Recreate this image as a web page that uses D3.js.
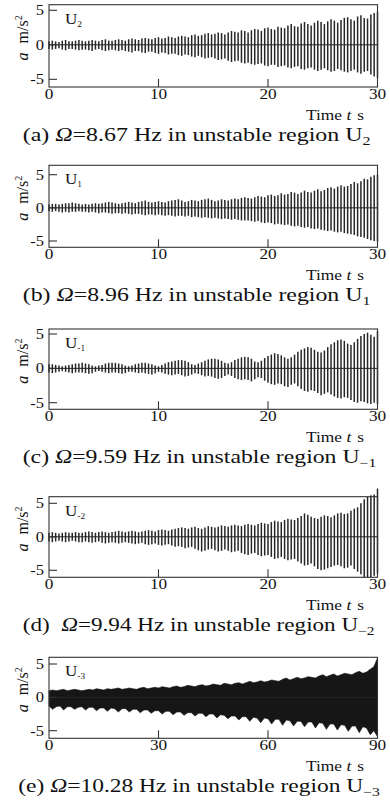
<!DOCTYPE html>
<html><head><meta charset="utf-8">
<script src="https://cdn.jsdelivr.net/npm/d3@7"></script>
<style>
html,body{margin:0;padding:0;background:#fff;}
svg{display:block;}
text{font-family:"Liberation Serif","Times New Roman",serif;fill:#111;}
</style></head>
<body>
<svg id="c" width="390" height="805"></svg>
<script>
// ---- data ----
const xTicks30 = [0, 10, 20, 30];
const xTicks90 = [0, 30, 60, 90];
const yTicks = [-5, 0, 5];
const freqs = ["8.67", "8.96", "9.59", "9.94", "10.28"];
const panelLetters = ["a", "b", "c", "d", "e"];
const regionSubs = ["2", "1", "−1", "−2", "−3"];
const boxSubs = ["2", "1", "-1", "-2", "-3"];

const upperA = [0.5,0.6,0.5,0.4,0.6,0.7,0.5,0.5,0.6,0.7, 0.6,0.5,0.6,0.7,0.6,0.5,0.7,0.8,0.6,0.6,
  0.7,0.8,0.7,0.6,0.8,0.9,0.8,0.7,0.9,1.0, 0.9,0.8,1.0,1.1,0.9,1.0,1.2,1.1,1.0,1.2,
  1.3,1.2,1.1,1.4,1.5,1.3,1.4,1.6,1.7,1.5, 1.6,1.8,1.7,1.5,1.8,2.0,1.9,1.8,2.1,2.0,
  1.8,2.1,2.3,2.2,2.0,2.4,2.5,2.3,2.2,2.6, 2.5,2.4,2.8,3.0,2.7,2.6,3.1,3.3,3.0,2.8,
  3.2,3.5,3.3,3.0,3.4,3.7,3.5,3.2,3.6,3.9, 4.0,3.7,3.5,4.1,4.3,3.9,3.8,4.4,4.6,4.8];
const lowerA = [0.6,0.7,0.6,0.5,0.7,0.8,0.6,0.6,0.7,0.8, 0.7,0.7,0.8,0.9,0.7,0.6,0.8,0.9,0.8,0.7,
  0.8,0.9,0.8,0.9,1.0,1.1,0.9,0.9,1.1,1.2, 1.0,1.0,1.2,1.3,1.1,1.2,1.4,1.3,1.3,1.5,
  1.6,1.4,1.5,1.7,1.8,1.6,1.8,2.0,1.9,1.8, 2.0,2.2,2.1,2.0,2.3,2.5,2.4,2.3,2.6,2.7,
  2.6,2.8,2.9,2.8,2.7,3.0,3.1,2.9,2.9,3.2, 3.1,3.0,3.3,3.4,3.2,3.1,3.5,3.6,3.4,3.3,
  3.6,3.8,3.6,3.4,3.7,3.9,3.8,3.5,3.7,3.9, 4.0,3.8,3.6,4.0,4.2,3.9,3.8,4.3,4.6,4.8];

const upperB = [0.5,0.6,0.6,0.5,0.6,0.7,0.7,0.8,0.7,0.6, 0.5,0.6,0.5,0.6,0.7,0.6,0.7,0.8,0.9,0.8,
  0.7,0.6,0.7,0.8,0.9,0.8,0.7,0.9,1.0,1.1, 0.9,0.8,0.9,1.0,0.9,0.8,1.0,1.1,1.2,1.3,
  1.1,0.9,1.0,1.2,1.1,1.0,1.2,1.3,1.4,1.2, 1.0,1.1,1.3,1.2,1.1,1.3,1.4,1.3,1.5,1.6,
  1.5,1.4,1.6,1.8,1.7,1.6,1.9,2.0,1.8,1.9, 2.2,2.0,2.1,2.4,2.3,2.1,2.3,2.6,2.4,2.3,
  2.6,2.8,2.5,2.7,3.0,3.1,2.9,3.2,3.4,3.2, 3.3,3.6,3.9,3.7,4.0,4.4,4.3,4.7,4.9,5.0];
const lowerB = [0.5,0.6,0.5,0.6,0.7,0.6,0.7,0.6,0.6,0.5, 0.6,0.6,0.7,0.6,0.7,0.8,0.7,0.7,0.8,0.9,
  0.8,0.8,0.9,0.8,0.9,1.0,0.9,0.9,1.0,1.1, 1.0,1.0,1.1,1.0,1.1,1.2,1.1,1.2,1.3,1.2,
  1.2,1.3,1.2,1.4,1.3,1.4,1.5,1.4,1.5,1.6, 1.5,1.6,1.7,1.6,1.7,1.8,1.7,1.8,1.9,1.9,
  1.9,2.0,2.1,2.0,2.2,2.3,2.2,2.3,2.5,2.4, 2.5,2.6,2.5,2.7,2.8,2.7,2.9,3.0,2.9,3.1,
  3.2,3.1,3.3,3.4,3.5,3.4,3.6,3.7,3.6,3.8, 3.9,4.0,4.1,4.3,4.4,4.5,4.7,4.9,5.0,5.1];

const upperC = [0.6,0.6,0.5,0.4,0.3,0.4,0.5,0.6,0.7,0.7, 0.8,0.7,0.6,0.4,0.3,0.4,0.5,0.7,0.8,0.8,
  0.8,0.7,0.6,0.4,0.3,0.4,0.6,0.7,0.8,0.8, 0.7,0.6,0.4,0.3,0.5,0.7,0.9,1.0,1.1,1.2,
  1.2,1.1,0.9,0.6,0.5,0.7,0.9,1.1,1.3,1.4, 1.4,1.3,1.1,0.8,0.7,0.9,1.2,1.4,1.6,1.7,
  1.6,1.4,1.0,0.9,1.1,1.5,1.8,2.0,2.2,2.1, 1.9,1.6,1.4,1.6,2.0,2.4,2.7,2.9,3.1,3.0,
  2.7,2.4,2.3,2.6,3.1,3.5,3.8,4.1,4.2,4.0, 3.6,3.4,3.8,4.3,4.7,5.0,5.2,4.9,4.6,5.4];
const lowerC = [0.6,0.7,0.6,0.5,0.4,0.5,0.6,0.7,0.6,0.6, 0.6,0.7,0.8,0.7,0.5,0.4,0.5,0.6,0.7,0.6,
  0.6,0.7,0.8,0.7,0.5,0.5,0.6,0.7,0.6,0.7, 0.8,0.9,0.7,0.5,0.6,0.8,0.9,1.0,0.9,0.8,
  1.0,1.2,1.1,0.9,0.7,0.8,1.0,1.2,1.1,1.2, 1.4,1.5,1.4,1.1,0.9,1.1,1.4,1.6,1.7,1.6,
  1.7,1.9,1.6,1.3,1.4,1.8,2.1,2.3,2.4,2.2, 2.3,2.6,2.7,2.4,2.2,2.6,3.0,3.3,3.4,3.2,
  3.3,3.6,3.9,3.7,3.5,3.8,4.1,4.3,4.4,4.2, 4.3,4.6,4.9,5.0,4.8,4.9,5.1,5.2,5.0,5.2];

const upperD = [0.6,0.7,0.6,0.5,0.6,0.7,0.6,0.6,0.7,0.6, 0.6,0.7,0.8,0.7,0.6,0.7,0.8,0.7,0.6,0.7,
  0.8,0.9,0.8,0.7,0.8,0.9,0.8,0.7,0.8,0.9, 1.0,0.9,0.8,1.0,1.1,1.0,0.9,1.1,1.2,1.3,
  1.4,1.3,1.2,1.4,1.5,1.3,1.2,1.4,1.6,1.5, 1.4,1.5,1.7,1.6,1.5,1.7,1.8,1.7,1.6,1.8,
  1.9,1.8,1.7,1.9,2.1,2.0,1.9,2.2,2.4,2.3, 2.2,2.5,2.7,2.6,2.5,2.8,3.1,3.5,3.3,3.0,
  2.8,2.7,3.0,3.2,3.1,2.9,3.2,3.5,3.6,3.4, 3.5,3.9,4.2,4.4,5.0,5.6,6.0,6.2,6.3,7.2];
const lowerD = [0.7,0.8,0.7,0.6,0.7,0.8,0.7,0.6,0.7,0.8, 0.8,0.7,0.8,0.9,0.8,0.7,0.9,1.0,0.9,0.8,
  0.9,1.0,0.9,0.8,0.9,1.0,1.1,1.0,0.9,1.1, 1.2,1.1,1.0,1.2,1.3,1.2,1.1,1.3,1.5,1.4,
  1.5,1.7,1.6,1.5,1.8,2.0,2.2,2.1,1.9,1.8, 2.0,2.2,2.1,1.9,2.1,2.3,2.2,2.1,2.4,2.6,
  2.7,2.5,2.4,2.7,2.9,2.8,2.7,3.0,3.3,3.2, 3.0,3.3,3.5,3.4,3.3,3.7,4.0,4.3,4.2,4.0,
  4.4,4.8,5.0,4.9,4.7,4.5,4.3,4.2,4.4,4.7, 4.6,4.3,4.8,5.2,5.6,6.0,6.1,6.0,5.8,5.5];

const upperE = [1.0,1.1,1.0,1.1,1.2,1.0,1.1,1.2,1.1,1.0, 1.1,1.2,1.1,1.3,1.2,1.1,1.3,1.2,1.3,1.4,
  1.2,1.3,1.4,1.3,1.2,1.4,1.5,1.3,1.4,1.5, 1.4,1.6,1.5,1.4,1.6,1.7,1.5,1.6,1.8,1.7,
  1.6,1.8,1.9,1.7,1.8,2.0,1.9,1.8,2.1,2.0, 1.9,2.1,2.2,2.0,2.2,2.4,2.2,2.3,2.5,2.3,
  2.4,2.6,2.5,2.4,2.7,2.9,2.6,2.8,3.0,2.8, 2.9,3.1,3.0,2.9,3.2,3.4,3.1,3.3,3.5,3.2,
  3.4,3.6,3.5,3.4,3.7,3.9,3.6,3.8,4.2,4.6, 5.9];
const lowerE = [1.3,1.8,1.4,1.3,1.9,1.4,1.4,1.8,1.5,1.4, 1.9,1.5,1.5,2.0,1.6,1.6,2.1,1.6,1.7,2.2,
  1.7,1.7,2.2,1.8,1.8,2.3,1.9,1.9,2.4,2.0, 2.0,2.5,2.1,2.1,2.6,2.2,2.2,2.7,2.3,2.3,
  2.8,2.4,2.4,2.9,2.5,2.5,3.1,2.6,2.7,3.2, 2.8,2.8,3.4,2.9,2.9,3.6,3.0,3.1,3.8,3.1,
  3.2,4.0,3.3,3.3,4.2,3.4,3.5,4.3,3.6,3.6, 4.4,3.7,3.7,4.6,3.8,3.9,4.8,4.0,4.0,4.9,
  4.1,4.2,5.1,4.3,4.3,5.3,4.4,4.6,5.6,5.0, 5.9];

// ---- layout ----
const panels = [
  {up: upperA, lo: lowerA, tMax: 30, ticks: xTicks30, top: 4.7, bottom: 87, y5: 10.3, ym5: 79.3, titleX: 22.7, titleW: 348, fill: false},
  {up: upperB, lo: lowerB, tMax: 30, ticks: xTicks30, top: 165.3, bottom: 247.3, y5: 174.7, ym5: 241, titleX: 22.7, titleW: 348, fill: false},
  {up: upperC, lo: lowerC, tMax: 30, ticks: xTicks30, top: 329, bottom: 409.3, y5: 334, ym5: 402.7, titleX: 22.7, titleW: 354, fill: false},
  {up: upperD, lo: lowerD, tMax: 30, ticks: xTicks30, top: 496.7, bottom: 577.3, y5: 503.3, ym5: 570.3, titleX: 22.7, titleW: 352, fill: false},
  {up: upperE, lo: lowerE, tMax: 90, ticks: xTicks90, top: 657.3, bottom: 738.3, y5: 664, ym5: 730.7, titleX: 18.3, titleW: 362, fill: true}
];
const left = 49, right = 377.5;
const svg = d3.select("#c");

function stretched(g, x, y, size, sx, anchor) {
  return g.append("text").attr("transform", `translate(${x},${y}) scale(${sx},1)`)
    .attr("text-anchor", anchor).attr("font-size", size);
}

panels.forEach((p, k) => {
  const g = svg.append("g");
  const x = d3.scaleLinear().domain([0, p.tMax]).range([left, right]);
  const y = d3.scaleLinear().domain([-5, 5]).range([p.ym5, p.y5]);
  const n = p.up.length;
  const t = i => i * p.tMax / (n - 1);

  if (p.fill) {
    const area = d3.area().x((d, i) => x(t(i))).y0((d, i) => y(-p.lo[i])).y1(d => y(d));
    g.append("path").datum(p.up).attr("d", area).attr("fill", "#161616").attr("stroke", "#161616").attr("stroke-width", 0.6);
  } else {
    g.selectAll("line.osc").data(p.up).join("line").attr("class", "osc")
      .attr("x1", (d, i) => x(t(i))).attr("x2", (d, i) => x(t(i)))
      .attr("y1", d => y(d)).attr("y2", (d, i) => y(-p.lo[i]))
      .attr("stroke", "#262626").attr("stroke-width", 1.5);
  }
  // zero line
  g.append("line").attr("x1", left).attr("x2", right).attr("y1", y(0)).attr("y2", y(0))
    .attr("stroke", "#222").attr("stroke-width", 1);
  // frame
  g.append("rect").attr("x", left).attr("y", p.top).attr("width", right - left).attr("height", p.bottom - p.top)
    .attr("fill", "none").attr("stroke", "#333").attr("stroke-width", 1.1);
  // y ticks (inward)
  g.selectAll("line.yt").data(yTicks).join("line").attr("class", "yt")
    .attr("x1", left).attr("x2", left + 8).attr("y1", d => y(d)).attr("y2", d => y(d))
    .attr("stroke", "#333").attr("stroke-width", 1.1);
  yTicks.forEach(d => {
    stretched(g, 44, y(d) + 5, 15, 1.1, "end").text(d < 0 ? "-" + Math.abs(d) : d);
  });
  // x ticks (inward)
  g.selectAll("line.xt").data(p.ticks.slice(1, -1)).join("line").attr("class", "xt")
    .attr("x1", d => x(d)).attr("x2", d => x(d)).attr("y1", p.bottom).attr("y2", p.bottom - 8)
    .attr("stroke", "#333").attr("stroke-width", 1.1);
  p.ticks.forEach(d => {
    stretched(g, x(d), p.bottom + 11.5, 15, 1.15, "middle").text(d);
  });
  // axis title x
  const xt = stretched(g, 364, p.bottom + 32.5, 14.5, 1.2, "end");
  xt.append("tspan").text("Time ");
  xt.append("tspan").attr("font-style", "italic").text("t");
  xt.append("tspan").attr("dx", 5).text("s");
  // y axis title
  const ymid = (p.top + p.bottom) / 2 - 8;
  const yt = g.append("text").attr("transform", `translate(28,${ymid}) rotate(-90)`).attr("text-anchor", "middle").attr("font-size", 16);
  yt.append("tspan").attr("font-style", "italic").text("a");
  yt.append("tspan").attr("dx", 9).text("m/s");
  yt.append("tspan").attr("font-size", 10).attr("dy", -6).text("2");
  // region label in box
  const ul = stretched(g, 65, p.top + 19, 15.5, 1.1, "start");
  ul.append("tspan").text("U");
  ul.append("tspan").attr("font-size", 8.5).attr("dy", 3).text(boxSubs[k]);
  // caption
  const cap = g.append("text").attr("x", 0).attr("y", 0).attr("font-size", 18);
  cap.append("tspan").text("(" + panelLetters[k] + ")" + (k === 3 ? "\u00a0 " : " "));
  cap.append("tspan").attr("font-style", "italic").text("Ω");
  cap.append("tspan").text("=" + freqs[k] + " Hz in unstable region U");
  cap.append("tspan").attr("font-size", 12).attr("dy", 4).text(regionSubs[k]);
  const w = cap.node().getBBox().width;
  cap.attr("transform", `translate(${p.titleX},${p.bottom + 54}) scale(${p.titleW / w},1)`);
});
</script>
</body></html>
